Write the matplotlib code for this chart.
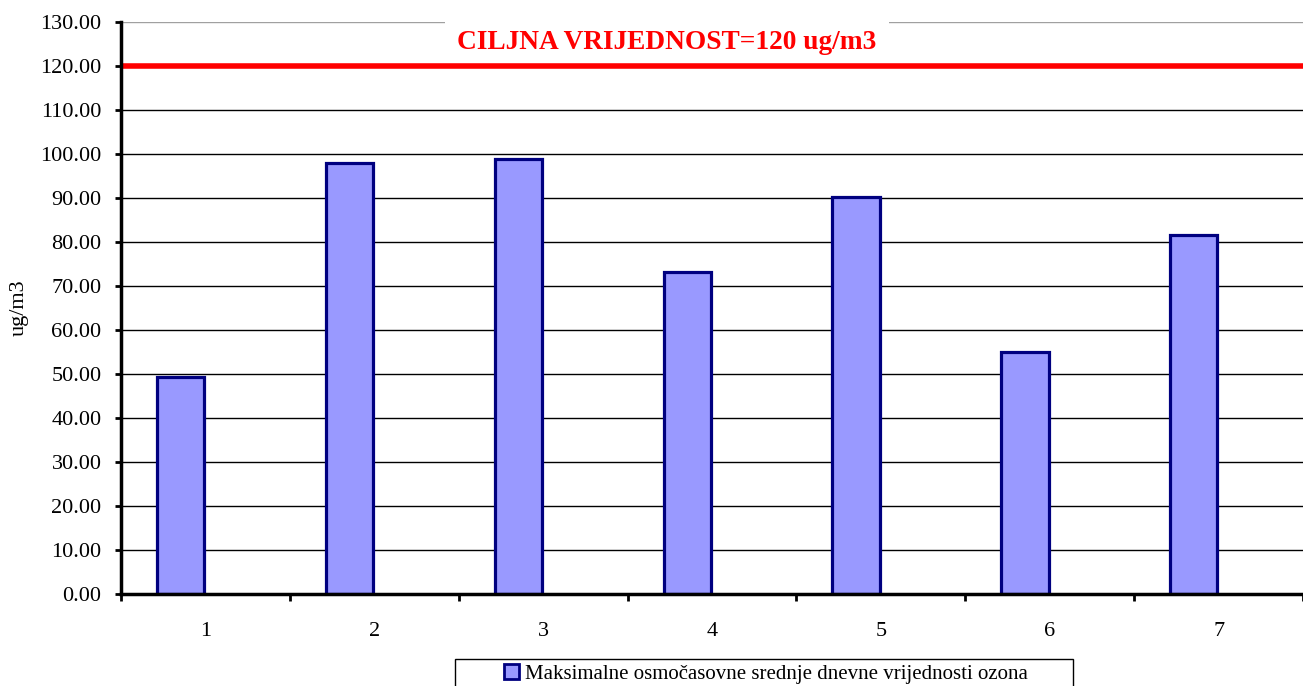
import matplotlib.pyplot as plt
from matplotlib.patches import Patch, Rectangle

# data
categories = [1, 2, 3, 4, 5, 6, 7]
values = [49.3, 98.0, 98.9, 73.2, 90.2, 55.0, 81.6]
target = 120
target_label = "CILJNA VRIJEDNOST=120 ug/m3"
series_name = "Maksimalne osmočasovne srednje dnevne vrijednosti ozona"
yticks = list(range(0, 131, 10))

plt.rcParams["font.family"] = ["Liberation Serif", "DejaVu Serif"]

W, H = 1303, 686
fig = plt.figure(figsize=(W / 100, H / 100), dpi=100)
ax = fig.add_axes([121 / W, 1 - 594 / H, (1303 - 121) / W, (594 - 22) / H])

bar_fill = "#9999ff"
bar_edge = "#000080"

# gridlines
for v in yticks:
    if v == 0:
        continue
    c = "#a0a0a0" if v == 130 else "black"
    ax.axhline(v, color=c, lw=1.0, zorder=1)

# bars sit left of the category centre (excel two-series slot)
xpos = [c - 0.147 for c in categories]
ax.bar(xpos, values, width=0.28, color=bar_fill, edgecolor=bar_edge,
       linewidth=2.3, zorder=3)

ax.axhline(target, color="#ff0000", lw=4.0, zorder=4)

ax.text(0.5 + (460 - 121) / 170.2, 125.3, target_label, color="#ff0000",
        fontsize=19.7, fontweight="bold", ha="left", va="center", zorder=3.5,
        bbox=dict(facecolor="white", edgecolor="none", pad=9))

ax.set_xlim(0.5, 0.5 + (1303 - 121) / 170.2)
ax.set_ylim(0, 130)

ax.set_yticks(yticks)
ax.set_yticklabels(["%.2f" % v for v in yticks], fontsize=16)
ax.set_xticks(categories)
ax.set_xticklabels([str(c) for c in categories], fontsize=16)
ax.set_xticks([0.5 + i for i in range(8)], minor=True)
ax.tick_params(axis="x", which="major", length=0, pad=20)
ax.tick_params(axis="x", which="minor", length=5, width=2, direction="out")
ax.tick_params(axis="y", length=4, width=2, direction="out", pad=10)

for s in ["top", "right"]:
    ax.spines[s].set_visible(False)
for s in ["left", "bottom"]:
    ax.spines[s].set_linewidth(2.5)
    ax.spines[s].set_zorder(6)

ax.set_ylabel("ug/m3", fontsize=16)
ax.yaxis.set_label_coords(-92 / 1182, 0.5)

# legend box, cut off at the bottom edge like the original
fig.patches.append(Rectangle((455 / W, -0.02), (1073 - 455) / W, 0.02 + (686 - 659) / H,
                             transform=fig.transFigure, facecolor="white",
                             edgecolor="black", lw=1.0))
fig.legend(handles=[Patch(facecolor=bar_fill, edgecolor=bar_edge, linewidth=2)],
           labels=[series_name], loc="center",
           bbox_to_anchor=(766 / W, 1 - 674 / H), fontsize=15,
           frameon=False, handlelength=0.7, handleheight=0.7,
           handletextpad=0.3, borderpad=0, borderaxespad=0)

fig.savefig("out.png", dpi=100)
